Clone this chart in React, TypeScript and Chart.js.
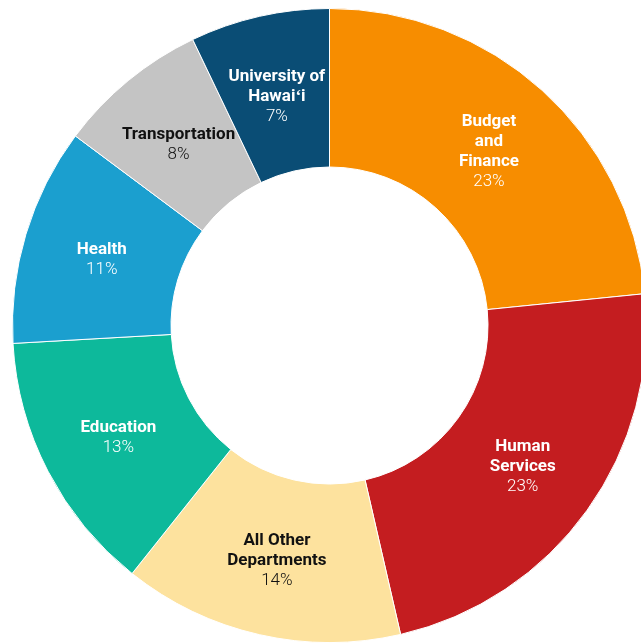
import React, { useEffect, useRef } from "react";
import { Chart, registerables } from "chart.js";

Chart.register(...registerables);

const categories: string[][] = [
  ["Budget", "and", "Finance"],
  ["Human", "Services"],
  ["All Other", "Departments"],
  ["Education"],
  ["Health"],
  ["Transportation"],
  ["University of", "Hawaiʻi"],
];
const values: number[] = [23.4, 23.0, 14.3, 13.4, 11.1, 7.7, 7.1];
const percentLabels: string[] = ["23%", "23%", "14%", "13%", "11%", "8%", "7%"];
const colors: string[] = ["#F78D00", "#C41D20", "#FDE29E", "#0DB99B", "#1B9FCF", "#C4C4C4", "#0A4D75"];
const textColors: string[] = ["#FFFFFF", "#FFFFFF", "#111111", "#FFFFFF", "#FFFFFF", "#111111", "#FFFFFF"];

const labelPlugin = {
  id: "sliceLabels",
  afterDatasetsDraw(chart: any) {
    const ctx = chart.ctx;
    const meta = chart.getDatasetMeta(0);
    meta.data.forEach((arc: any, i: number) => {
      const pos = arc.tooltipPosition(false);
      const lines = [...categories[i]];
      const lh = 20;
      const total = lines.length + 1;
      const startY = pos.y + 3 - ((total - 1) * lh) / 2;
      ctx.save();
      ctx.textAlign = "center";
      ctx.textBaseline = "middle";
      ctx.fillStyle = textColors[i];
      ctx.font = "bold 17px Roboto";
      lines.forEach((t, j) => ctx.fillText(t, pos.x, startY + j * lh));
      ctx.font = "300 17px Roboto";
      ctx.fillText(percentLabels[i], pos.x, startY + lines.length * lh);
      ctx.restore();
    });
  },
};

export default function App() {
  const ref = useRef<HTMLCanvasElement>(null);
  useEffect(() => {
    if (!ref.current) return;
    const chart = new Chart(ref.current, {
      type: "doughnut",
      data: {
        labels: categories.map((c) => c.join(" ")),
        datasets: [
          {
            data: values,
            backgroundColor: colors,
            borderColor: "#FFFFFF",
            borderWidth: 1,
          },
        ],
      },
      options: {
        responsive: false,
        animation: false,
        cutout: "50%",
        layout: { padding: 0 },
        plugins: { legend: { display: false }, tooltip: { enabled: false } },
      },
      plugins: [labelPlugin],
    });
    return () => chart.destroy();
  }, []);
  return (
    <div style={{ position: "fixed", left: 0, top: 0, width: 641, height: 643, overflow: "hidden", background: "#fff" }}>
      <canvas ref={ref} width={635} height={635} style={{ position: "absolute", left: 12, top: 8, width: 635, height: 635 }} />
    </div>
  );
}
